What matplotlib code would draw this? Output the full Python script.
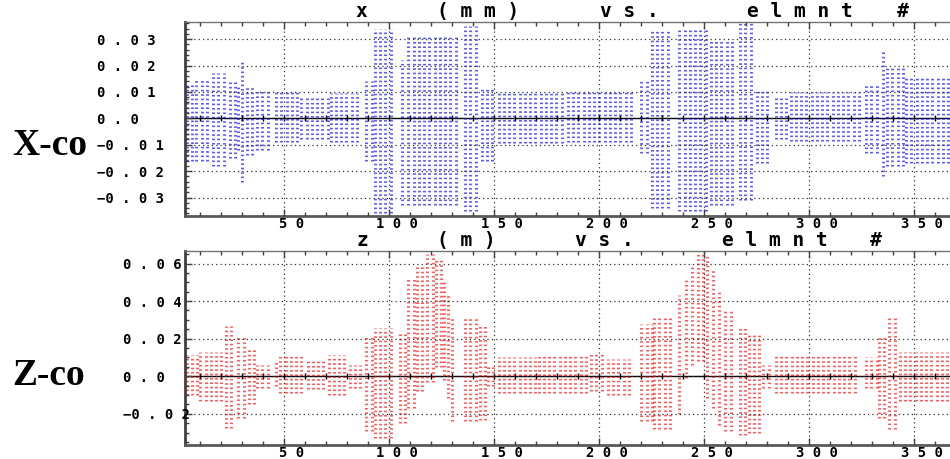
import numpy as np
import matplotlib
matplotlib.use('agg')
import matplotlib.pyplot as plt
import matplotlib.transforms as mtransforms

# orbit envelope per block of elements: first elmnt, last elmnt, max, min
x_first = [1, 8, 16, 24, 28, 30, 32, 37, 46, 58, 72, 89, 93, 106, 109, 136, 144,
           152, 185, 220, 225, 238, 253, 267, 275, 284, 291, 327, 335, 337, 346]
x_last = [7, 15, 23, 27, 29, 31, 36, 43, 57, 71, 86, 92, 101, 108, 133, 143, 150,
          184, 216, 224, 234, 252, 265, 274, 281, 290, 324, 334, 336, 345, 368]
x_hi = [0.013, 0.015, 0.017, 0.014, 0.012, 0.022, 0.012, 0.011, 0.010, 0.0085,
        0.0095, 0.014, 0.034, 0.022, 0.031, 0.035, 0.012, 0.0105, 0.010, 0.014,
        0.034, 0.034, 0.030, 0.036, 0.011, 0.008, 0.010, 0.0125, 0.026, 0.019, 0.016]
x_lo = [-0.016, -0.016, -0.018, -0.015, -0.012, -0.024, -0.014, -0.012, -0.009,
        -0.008, -0.009, -0.016, -0.036, -0.033, -0.033, -0.035, -0.016, -0.0095,
        -0.009, -0.013, -0.034, -0.035, -0.033, -0.031, -0.017, -0.008, -0.0085,
        -0.013, -0.022, -0.018, -0.017]

z_first = [1, 10, 22, 28, 33, 37, 46, 48, 61, 71, 81, 89, 93, 105, 109, 113, 118,
           122, 126, 128, 130, 136, 143, 147, 152, 171, 196, 204, 220, 226, 238,
           241, 244, 247, 251, 254, 257, 260, 267, 271, 278, 284, 327, 333, 338, 343]
z_last = [9, 21, 26, 32, 36, 43, 47, 60, 70, 80, 86, 92, 101, 108, 112, 117, 121,
          125, 127, 129, 131, 142, 146, 150, 170, 195, 203, 216, 225, 234, 240,
          243, 246, 250, 253, 256, 259, 264, 270, 277, 281, 323, 332, 337, 342, 366]
z_hi = [0.0115, 0.013, 0.027, 0.021, 0.015, 0.006, 0.008, 0.0115, 0.008, 0.0115,
        0.006, 0.022, 0.0257, 0.024, 0.052, 0.0585, 0.065, 0.063, 0.050, 0.0435,
        0.031, 0.031, 0.0266, 0.006, 0.010, 0.0115, 0.013, 0.009, 0.028, 0.031,
        0.0435, 0.052, 0.060, 0.0665, 0.064, 0.0577, 0.045, 0.036, 0.0257, 0.022,
        0.006, 0.0115, 0.010, 0.022, 0.031, 0.013]
z_lo = [-0.010, -0.013, -0.0275, -0.022, -0.015, -0.006, -0.005, -0.009, -0.007,
        -0.010, -0.006, -0.029, -0.033, -0.025, -0.017, -0.008, -0.003, 0.005,
        -0.002, -0.0115, -0.024, -0.024, -0.023, -0.005, -0.009, -0.009, -0.008,
        -0.0098, -0.024, -0.028, -0.020, -0.001, 0.006, 0.008, -0.0115, -0.017,
        -0.026, -0.029, -0.031, -0.030, -0.006, -0.009, -0.006, -0.022, -0.028, -0.013]

x_yticks = [-0.03, -0.02, -0.01, 0.0, 0.01, 0.02, 0.03]
z_yticks = [-0.02, 0.0, 0.02, 0.04, 0.06]
elmnt_ticks = [50, 100, 150, 200, 250, 300, 350]

COL_STEP = 2.5
MONO = 'DejaVu Sans Mono'
W, H = 950, 459


def spaced(s):
    # old plotter style: wide letter spacing, minus kept on the digit
    s = s.replace('-', '\u2212')
    out = ' '.join(s)
    return out.replace('\u2212 ', '\u2212')


def draw_orbit(ax, first, last, hi, lo, color):
    for a, b, top, bot in zip(first, last, hi, lo):
        xs = np.arange(a, b + 0.5, COL_STEP)
        ax.vlines(xs, bot, top, colors=color, lw=2.1, alpha=0.65,
                  linestyles=[(0, (0.55, 0.95))])


def style_axes(ax, ylim, yticks, yminor, ylabel_pad):
    ax.set_xlim(2.5, 368)
    ax.set_ylim(*ylim)
    ax.set_xticks(elmnt_ticks, [spaced(str(v)) for v in elmnt_ticks])
    ax.set_xticks(np.arange(10, 370, 10), minor=True)
    ax.set_yticks(yticks, [spaced('%.2f' % v if v != 0 else '0.0') for v in yticks])
    ax.set_yticks(np.arange(-0.04, 0.07, yminor), minor=True)
    ax.set_ylim(*ylim)
    ax.grid(which='major', color='0.2', lw=0.9, linestyle=(0, (1, 2.5)))
    ax.set_axisbelow(False)
    ax.tick_params(which='both', direction='in', top=True, right=False,
                   colors='0.25')
    ax.tick_params(which='major', length=5, width=1)
    ax.tick_params(which='minor', length=3, width=1)
    ax.tick_params(axis='x', pad=1, labelsize=10, labelcolor='black')
    ax.tick_params(axis='y', pad=ylabel_pad, labelsize=10, labelcolor='black')
    for lbl in ax.get_xticklabels() + ax.get_yticklabels():
        lbl.set_family(MONO)
        lbl.set_fontweight('bold')
    for lbl in ax.get_yticklabels():
        lbl.set_horizontalalignment('left')
    offset = mtransforms.ScaledTranslation(7 / 100, 0, ax.figure.dpi_scale_trans)
    for lbl in ax.get_xticklabels():
        lbl.set_transform(lbl.get_transform() + offset)
    ax.spines['left'].set_linewidth(2)
    ax.spines['left'].set_color('0.25')
    ax.spines['bottom'].set_linewidth(2)
    ax.spines['bottom'].set_color('0.35')
    ax.spines['top'].set_linewidth(1)
    ax.spines['top'].set_color('0.45')
    ax.spines['right'].set_visible(False)
    # zero orbit line with element marks
    zero = ax.secondary_xaxis(-ylim[0] / (ylim[1] - ylim[0]))
    zero.set_xticks(np.arange(10, 370, 10))
    zero.tick_params(direction='inout', length=4, width=1, colors='black',
                     labeltop=False, labelbottom=False)
    for sp in zero.spines.values():
        sp.set_color('black')
        sp.set_linewidth(1)


fig = plt.figure(figsize=(W / 100, H / 100), dpi=100)
ax1 = fig.add_axes([184.75 / W, 1 - 216 / H, 767.5 / W, 194 / H])
ax2 = fig.add_axes([184.75 / W, 1 - 444.5 / H, 767.5 / W, 193.5 / H])

draw_orbit(ax1, x_first, x_last, x_hi, x_lo, 'blue')
draw_orbit(ax2, z_first, z_last, z_hi, z_lo, 'red')

style_axes(ax1, (-0.0370, 0.03648), x_yticks, 0.002, (185 - 97) / 1.389)
style_axes(ax2, (-0.03628, 0.06665), z_yticks, 0.005, (185 - 123) / 1.389)


def title_words(words, xs, y_base):
    for w, x in zip(words, xs):
        fig.text(x / W, 1 - y_base / H, spaced(w), family=MONO, weight='bold',
                 fontsize=14, va='baseline', ha='left')


title_words(['x', '(mm)', 'vs.', 'elmnt', '#'], [355, 437, 600, 747, 897], 17)
title_words(['z', '(m)', 'vs.', 'elmnt', '#'], [357, 437, 575, 722, 870], 246)

fig.text(12 / W, 1 - 155 / H, 'X-co', family='Liberation Serif', weight='bold',
         fontsize=27, va='baseline', ha='left')
fig.text(12 / W, 1 - 385 / H, 'Z-co', family='Liberation Serif', weight='bold',
         fontsize=27, va='baseline', ha='left')

fig.savefig('out.png', dpi=100)
